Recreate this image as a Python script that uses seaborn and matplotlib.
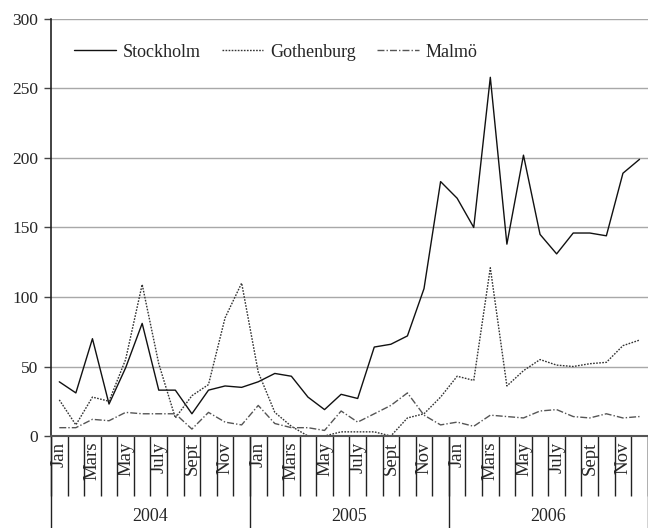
import numpy as np
import pandas as pd
import seaborn as sns
import matplotlib.pyplot as plt

# monthly values, Jan 2004 .. Dec 2006
stockholm = [39, 31, 70, 23, 49, 81, 33, 33, 16, 33, 36, 35,
             39, 45, 43, 28, 19, 30, 27, 64, 66, 72, 106, 183,
             171, 150, 258, 138, 202, 145, 131, 146, 146, 144, 189, 199]
gothenburg = [26, 8, 28, 25, 55, 109, 52, 13, 29, 37, 85, 110,
              46, 17, 7, 0, 0, 3, 3, 3, 0, 13, 16, 28,
              43, 40, 121, 36, 47, 55, 51, 50, 52, 53, 65, 69]
malmo = [6, 6, 12, 11, 17, 16, 16, 16, 5, 17, 10, 8,
         22, 9, 6, 6, 4, 18, 10, 16, 22, 31, 15, 8,
         10, 7, 15, 14, 13, 18, 19, 14, 13, 16, 13, 14]
cities = ["Stockholm", "Gothenburg", "Malmö"]
month_labels = ["Jan", "", "Mars", "", "May", "", "July", "", "Sept", "", "Nov", ""]
years = ["2004", "2005", "2006"]

n = len(stockholm)
df = pd.DataFrame({
    "idx": list(range(n)) * 3,
    "value": stockholm + gothenburg + malmo,
    "city": [cities[0]] * n + [cities[1]] * n + [cities[2]] * n,
})

sns.set_style("white")
plt.rcParams['font.family'] = ['Liberation Serif', 'DejaVu Serif']

fig = plt.figure(figsize=(6.48, 5.28), dpi=100)
ax = fig.add_axes([0.0787, 0.1742, 0.921, 0.790])

sns.lineplot(data=df, x="idx", y="value", hue="city", style="city",
             palette={"Stockholm": "#111111", "Gothenburg": "#333333", "Malmö": "#555555"},
             dashes={"Stockholm": "", "Gothenburg": (1.2, 1.0), "Malmö": (5, 1.5, 1, 1.5)},
             linewidth=1.0, ax=ax, legend=True)

ax.set_xlim(-0.5, n - 0.5)
ax.set_ylim(0, 300)
ax.set_yticks(np.arange(0, 301, 50))
ax.yaxis.grid(True, color="#a8a8a8", linewidth=1.0)
ax.set_axisbelow(True)
ax.set_xlabel("")
ax.set_ylabel("")

for s in ["top", "right"]:
    ax.spines[s].set_visible(False)
ax.spines["left"].set_color("#222222")
ax.spines["left"].set_linewidth(1.2)
ax.spines["bottom"].set_color("#555555")
ax.spines["bottom"].set_linewidth(1.5)

ax.tick_params(axis="y", which="major", left=True, length=5, width=1, color="#444444",
               labelsize=12.5, pad=4)

# month labels at category centres, boundary ticks below the axis
ax.set_xticks(np.arange(n))
ax.set_xticklabels(month_labels * 3, rotation=90, fontsize=13.5)
ax.tick_params(axis="x", which="major", bottom=True, length=0, pad=4)
ax.set_xticks(np.arange(-0.5, n, 1), minor=True)
ax.tick_params(axis="x", which="minor", bottom=True, length=43, width=1.0,
               color="#222222", direction="out")

# year separators and year labels
trans = ax.get_xaxis_transform()
for b in [-0.5, 11.5, 23.5, 35.5]:
    ax.plot([b, b], [0, -0.23], transform=trans, color="#222222", lw=1.0, clip_on=False)
for i, y in enumerate(years):
    ax.text(5.5 + 12 * i, -0.194, y, transform=trans, ha="center", va="center", fontsize=13)

handles, labels = ax.get_legend_handles_labels()
ax.legend(handles, labels, loc="center left", bbox_to_anchor=(0.012, 0.92), ncol=3,
          frameon=False, fontsize=13, handlelength=2.3, handletextpad=0.35,
          columnspacing=1.2)

fig.savefig("out.png", dpi=100)
